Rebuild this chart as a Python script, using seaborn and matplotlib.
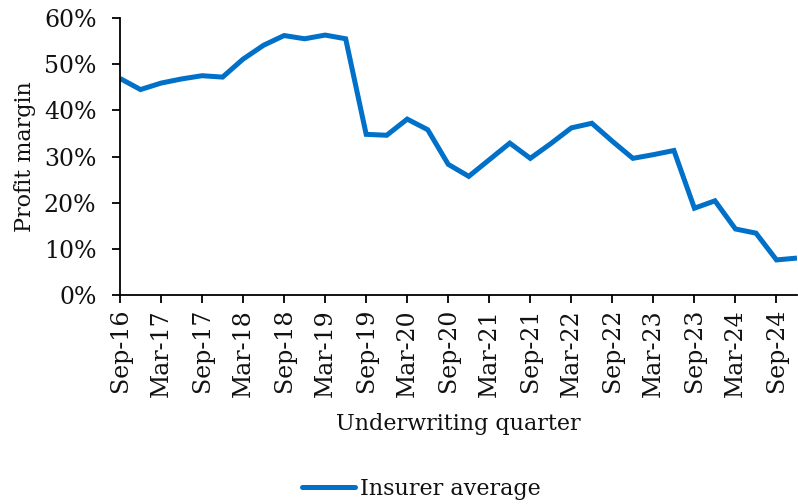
import matplotlib
matplotlib.use("Agg")
import matplotlib.pyplot as plt
import seaborn as sns
import pandas as pd
from matplotlib.ticker import PercentFormatter

quarters = ["Sep-16", "Dec-16", "Mar-17", "Jun-17", "Sep-17", "Dec-17", "Mar-18", "Jun-18",
            "Sep-18", "Dec-18", "Mar-19", "Jun-19", "Sep-19", "Dec-19", "Mar-20", "Jun-20",
            "Sep-20", "Dec-20", "Mar-21", "Jun-21", "Sep-21", "Dec-21", "Mar-22", "Jun-22",
            "Sep-22", "Dec-22", "Mar-23", "Jun-23", "Sep-23", "Dec-23", "Mar-24", "Jun-24",
            "Sep-24", "Dec-24"]
insurer_average = [46.9, 44.5, 45.9, 46.8, 47.5, 47.2, 51.1, 54.1,
                   56.2, 55.5, 56.3, 55.5, 34.8, 34.6, 38.1, 35.8,
                   28.3, 25.7, 29.3, 32.9, 29.6, 32.8, 36.2, 37.2,
                   33.3, 29.6, 30.4, 31.3, 18.8, 20.4, 14.3, 13.4,
                   7.6, 8.0]
y_ticks = [0, 10, 20, 30, 40, 50, 60]

df = pd.DataFrame({"idx": range(len(quarters)), "quarter": quarters,
                   "value": insurer_average, "series": "Insurer average"})

sns.set_style("white")
plt.rcParams["font.family"] = ["DejaVu Serif"]

fig = plt.figure(figsize=(7.98, 5.04), dpi=100)
ax = fig.add_axes([120/798, 1 - 295/504, (797 - 120)/798, (295 - 18)/504])

sns.lineplot(data=df, x="idx", y="value", hue="series", palette=["#0070C8"],
             linewidth=3.6, ax=ax, legend=True)
for ln in ax.get_lines():
    ln.set_solid_joinstyle("miter")
    ln.set_solid_capstyle("butt")

ax.set_xlim(0, len(quarters) - 1)
ax.set_ylim(0, 60)
ax.set_yticks(y_ticks)
ax.yaxis.set_major_formatter(PercentFormatter(decimals=0))
ax.set_xticks(list(range(0, len(quarters), 2)))
ax.set_xticklabels(quarters[::2], rotation=90)

for s in ["top", "right"]:
    ax.spines[s].set_visible(False)
for s in ["left", "bottom"]:
    ax.spines[s].set_color("black")
    ax.spines[s].set_linewidth(1.3)
ax.tick_params(axis="both", which="both", direction="out", length=6, width=1.3,
               color="black", labelsize=17, labelcolor="#111111", left=True, bottom=True)
ax.tick_params(axis="x", pad=4)
ax.tick_params(axis="y", pad=11)

ax.set_xlabel("Underwriting quarter", fontsize=16, color="#111111", labelpad=12)
ax.set_ylabel("Profit margin", fontsize=16, color="#111111", labelpad=6)

ax.get_legend().remove()
h, l = ax.get_legend_handles_labels()
fig.legend(h, l, loc="center", bbox_to_anchor=(421/798, 1 - 489/504), frameon=False,
           fontsize=16, handlelength=2.4, handletextpad=0.2, labelcolor="#111111")
for lh in fig.legends[0].get_lines():
    lh.set_solid_capstyle("round")

fig.savefig("out.png", dpi=100)
